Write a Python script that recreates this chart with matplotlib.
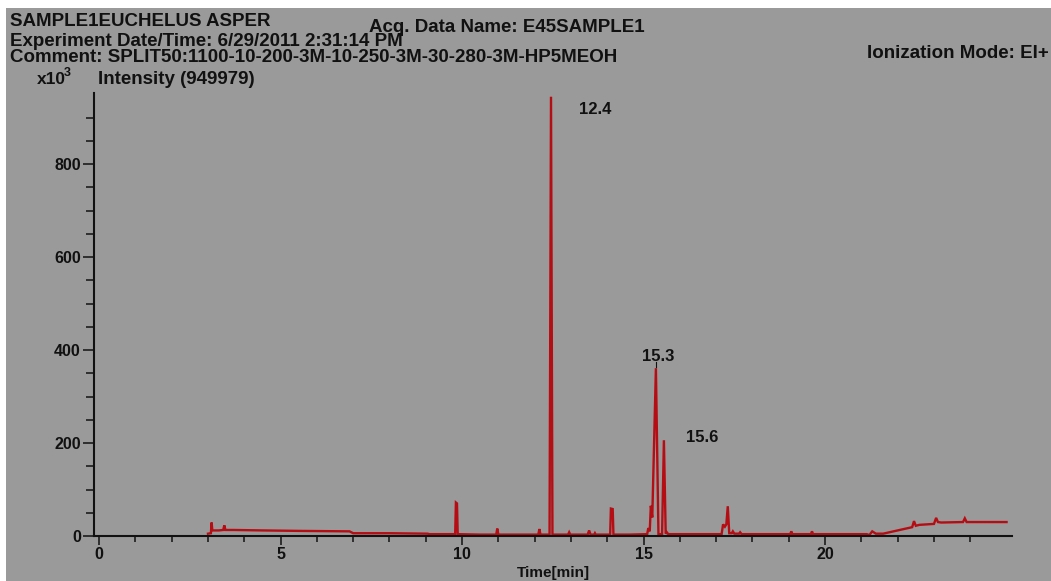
"""
Re-draw of a scanned GC-MS total ion chromatogram (Euchelus asper sample 1).
"""

import matplotlib
matplotlib.use("Agg")
import matplotlib.pyplot as plt  # noqa: E402
from matplotlib.patches import Rectangle  # noqa: E402

W, H, DPI = 1051, 581, 100
PAPER = "#9a9a9a"      # grey of the scanned paper
TRACE = "#b50d14"      # dark red trace
INK = "#111111"
FONT = "Liberation Sans"

# --------------------------------------------------------------------------- #
# data (time in min, intensity in x10^3 counts)
# --------------------------------------------------------------------------- #
time_min = [3.00, 3.08, 3.10, 3.12, 3.30, 3.42, 3.45, 3.48, 3.70, 4.50,
            5.50, 6.90, 7.00, 8.00, 9.05, 9.10, 9.81, 9.83, 9.86, 9.88,
            10.50, 10.94, 10.97, 11.00, 11.60, 12.10, 12.13, 12.16, 12.41, 12.45,
            12.49, 12.60, 12.92, 12.95, 12.98, 13.46, 13.50, 13.54, 13.64, 13.66,
            13.68, 14.08, 14.10, 14.15, 14.17, 14.60, 15.10, 15.13, 15.17, 15.20,
            15.24, 15.34, 15.41, 15.51, 15.56, 15.61, 15.64, 15.68, 15.90, 17.15,
            17.19, 17.24, 17.28, 17.32, 17.36, 17.43, 17.46, 17.50, 17.63, 17.66,
            17.70, 18.50, 19.04, 19.07, 19.10, 19.61, 19.64, 19.67, 20.50, 21.15,
            21.22, 21.30, 21.40, 21.60, 22.00, 22.40, 22.45, 22.50, 22.60, 23.00,
            23.06, 23.11, 23.20, 23.80, 23.85, 23.90, 24.40, 25.00]
intensity = [5, 6, 29, 12, 12, 13, 23, 13, 13, 12,
             11, 10, 6, 6, 5, 4, 4, 72, 70, 4,
             3, 3, 16, 3, 3, 3, 15, 3, 3, 945,
             3, 3, 3, 8, 3, 3, 12, 3, 3, 6,
             3, 3, 59, 58, 3, 3, 4, 17, 10, 65,
             40, 361, 4, 4, 206, 5, 8, 4, 4, 4,
             25, 20, 25, 64, 6, 6, 10, 5, 5, 8,
             4, 4, 4, 10, 4, 4, 10, 4, 4, 4,
             2, 10, 5, 5, 12, 19, 32, 22, 24, 26,
             39, 30, 29, 30, 38, 30, 30, 30]

peak_labels = ["12.4", "15.3", "15.6"]
peak_label_xy = [(13.66, 918), (15.40, 386), (16.62, 212)]

y_major = [0, 200, 400, 600, 800]
x_major = [0, 5, 10, 15, 20]

# header lines of the printout: text, x px, centre px, alignment
header = [
    ("SAMPLE1EUCHELUS ASPER", 10, 22, "left"),
    ("Acq. Data Name: E45SAMPLE1", 369, 28, "left"),
    ("Experiment Date/Time: 6/29/2011 2:31:14 PM", 10, 42, "left"),
    ("Comment: SPLIT50:1100-10-200-3M-10-250-3M-30-280-3M-HP5MEOH", 10, 58, "left"),
    ("Ionization Mode: EI+", 1049, 53, "right"),
    ("Intensity (949979)", 98, 79, "left"),
]


def fx(px):
    return px / W


def fy(py):
    return 1.0 - py / H


def main():
    plt.rcParams["font.family"] = [FONT, "DejaVu Sans"]

    fig = plt.figure(figsize=(W / DPI, H / DPI), dpi=DPI)
    fig.patch.set_facecolor("white")
    # scanned paper: white margin on top and left
    paper = Rectangle((fx(6), 0), 1 - fx(6), fy(8), transform=fig.transFigure,
                      facecolor=PAPER, edgecolor="none", zorder=-5)
    fig.add_artist(paper)

    ax = fig.add_axes([fx(94), 1 - 536 / H, (1012 - 94) / W, (536 - 93) / H])
    ax.set_facecolor("none")

    ax.plot(time_min, intensity, color=TRACE, lw=1.7, solid_joinstyle="miter")

    ax.set_xlim(-0.14, 25.15)
    ax.set_ylim(0, 953)

    for s in ("top", "right"):
        ax.spines[s].set_visible(False)
    for s in ("left", "bottom"):
        ax.spines[s].set_color(INK)
        ax.spines[s].set_linewidth(1.5)

    ax.set_yticks(y_major)
    ax.set_yticks(range(0, 901, 50), minor=True)
    ax.set_xticks(x_major)
    ax.set_xticks(range(0, 25), minor=True)
    ax.tick_params(axis="y", which="major", length=8, width=1.1, color=INK, pad=1.5,
                   labelsize=11.5, labelcolor=INK)
    ax.tick_params(axis="y", which="minor", length=5.5, width=1.1, color=INK)
    ax.tick_params(axis="x", which="major", length=6.5, width=1.1, color=INK, pad=1.5,
                   labelsize=11.5, labelcolor=INK)
    ax.tick_params(axis="x", which="minor", length=4.5, width=1.1, color=INK)
    for lab in ax.get_xticklabels() + ax.get_yticklabels():
        lab.set_fontweight("bold")
    ax.set_xlabel("Time[min]", fontsize=11, color=INK, labelpad=3, fontweight="bold")

    for lab, (x, y) in zip(peak_labels, peak_label_xy):
        ax.text(x, y, lab, fontsize=12, color=INK, ha="center", va="center",
                fontweight="bold")
    # little marker line above the 15.3 peak
    i = intensity.index(361)
    ax.plot([time_min[i], time_min[i]], [intensity[i] + 3, intensity[i] + 14],
            color=INK, lw=0.8)

    for txt, x, y, ha in header:
        fig.text(fx(x), fy(y), txt, fontsize=13.5, color=INK, ha=ha, va="center",
                 fontweight="bold")
    fig.text(fx(37), fy(79), "x10", fontsize=12.5, color=INK, ha="left", va="center",
             fontweight="bold")
    fig.text(fx(64), fy(73), "3", fontsize=9, color=INK, ha="left", va="center",
             fontweight="bold")

    fig.savefig("out.png", dpi=DPI, facecolor=fig.get_facecolor())
    plt.close(fig)


if __name__ == "__main__":
    main()
